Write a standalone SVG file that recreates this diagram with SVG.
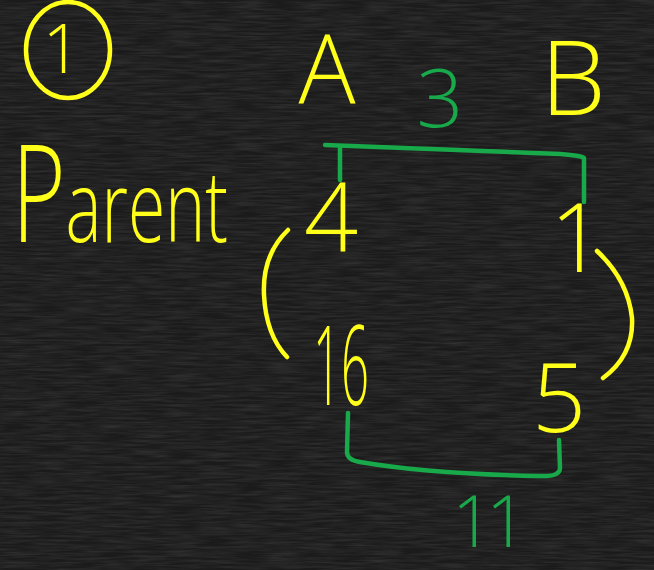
<svg xmlns="http://www.w3.org/2000/svg" width="654" height="570" viewBox="0 0 654 570">
<defs>
<filter id="chalk" x="0" y="0" width="100%" height="100%">
<feTurbulence type="fractalNoise" baseFrequency="0.03 0.45" numOctaves="3" seed="4" result="n"/>
<feColorMatrix in="n" type="matrix" values="0 0 0 0 1  0 0 0 0 1  0 0 0 0 1  0 0 0 0.16 -0.05"/>
</filter>
<style>
.y{fill:#ffff1a;font-family:"Open Sans","Liberation Sans",sans-serif;font-weight:300;text-anchor:middle}
.g{fill:#18a94a;font-family:"Open Sans","Liberation Sans",sans-serif;font-weight:300;text-anchor:middle}
.ys{fill:none;stroke:#ffff1a;stroke-width:4.5;stroke-linecap:round;stroke-linejoin:round}
.gs{fill:none;stroke:#18a94a;stroke-width:4.5;stroke-linecap:round;stroke-linejoin:round}
</style>
</defs>
<rect width="654" height="570" fill="#1b1b1b"/>
<rect width="654" height="570" filter="url(#chalk)"/>

<g id="label-1">
<ellipse class="ys" cx="68" cy="50" rx="42" ry="48"/>
<text class="y" x="62" y="73" font-size="68">1</text>
</g>
<g id="label-parent">
<text class="y" x="12" y="242" style="text-anchor:start" textLength="216" lengthAdjust="spacingAndGlyphs"><tspan font-size="135">P</tspan><tspan font-size="100">arent</tspan></text>
</g>
<g id="node-A"><text class="y" x="327" y="103" font-size="95">A</text></g>
<g id="node-B"><text class="y" x="573" y="115" font-size="104">B</text></g>
<g id="label-3"><text class="g" x="440" y="127" font-size="82">3</text></g>
<g id="val-4"><text class="y" x="331" y="252" font-size="95">4</text></g>
<g id="val-1"><text class="y" x="577" y="272" font-size="95">1</text></g>
<g id="val-16"><text class="y" x="341" y="405" font-size="110" textLength="56" lengthAdjust="spacingAndGlyphs">16</text></g>
<g id="val-5"><text class="y" x="559" y="432" font-size="95">5</text></g>
<g id="label-11"><text class="g" x="486" y="547" font-size="72" letter-spacing="-7">11</text></g>

<g id="connectors">
<path class="gs" d="M325 145 L560 154 Q584 156 584 158 L584 202"/>
<path class="gs" d="M340 148 L340 180"/>
<path class="gs" d="M348 413 L347 452 Q347 460 360 462 Q430 474 540 476 Q560 477 560 468 L559 440"/>
<path class="ys" d="M288 230 Q262 255 264 295 Q266 335 287 357"/>
<path class="ys" d="M597 251 Q628 280 632 318 Q634 355 603 378"/>
</g>
</svg>
